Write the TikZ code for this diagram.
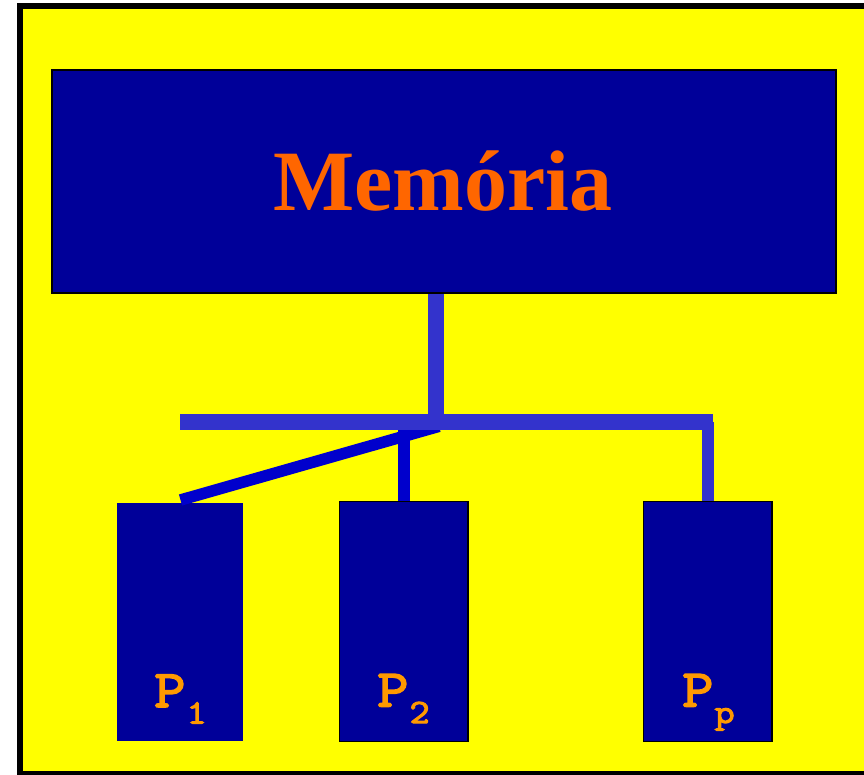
\documentclass[tikz,border=0pt]{standalone}
\usepackage{fontspec}
\usetikzlibrary{calc}
\newfontfamily\memfont{Liberation Serif}
% heavy typewriter face for the processor labels
\newfontfamily\cpufont{Latin Modern Mono}[FakeBold=3, FakeStretch=1.15]
\newcommand\plabel[1]{{\cpufont\fontsize{53}{53}\selectfont P\kern1pt\raisebox{-16.5pt}{\fontsize{34}{34}\selectfont #1}}}

\definecolor{bgyellow}{HTML}{FFFF00}
\definecolor{boxnavy}{HTML}{000099}
\definecolor{busblue}{HTML}{3333CC}
\definecolor{linkblue}{HTML}{0000CC}
\definecolor{memorange}{HTML}{FF6600}
\definecolor{cpuorange}{HTML}{FF9900}

\tikzset{
  membox/.style={rectangle, fill=boxnavy, draw=black, line width=2pt, inner sep=0pt},
  cpubox/.style={rectangle, fill=boxnavy, draw=black, line width=1.5pt, inner sep=0pt,
                 minimum width=128.2pt, minimum height=239.6pt},
  cpubare/.style={rectangle, fill=boxnavy, inner sep=0pt,
                 minimum width=126pt, minimum height=238pt},
  busline/.style={draw=busblue, line cap=butt},
  linkline/.style={draw=linkblue, line cap=butt},
  cpulabel/.style={anchor=base west, inner sep=0pt, text=cpuorange}
}

\begin{document}
\begin{tikzpicture}[x=1pt, y=-1pt]
  \useasboundingbox (0,0) rectangle (864,774);
  \clip (0,0) rectangle (864,774);

  % yellow panel with its black frame
  \draw[fill=bgyellow, line width=6pt] (19.7,6) rectangle (880,773.7);

  % shared memory
  \node[membox, minimum width=784.3pt, minimum height=223pt] (mem) at (443.85,181.5) {};
  \node[anchor=base, inner sep=0pt, text=memorange] (memtext) at (443,210)
    {\memfont\bfseries\fontsize{86}{86}\selectfont Memória};

  % processors
  \node[cpubare] (p1) at (179.7,621.7) {};
  \node[cpubox] (p2) at (403.7,621.5) {};
  \node[cpubox] (pp) at (707.8,621.5) {};

  \node[cpulabel] (l1) at (154,707) {\plabel{1}};
  \node[cpulabel] (l2) at (377,706.5) {\plabel{2}};
  \node[cpulabel] (lp) at (682,706.5) {\plabel{p}};

  % bus points
  \coordinate (tap) at (436.2,422);
  \coordinate (busL) at (180,422);
  \coordinate (busR) at (713.3,422);
  \coordinate (hub) at (439,426.3);

  % drops from the bus to the processors
  \draw[busline, line width=11.6pt] (pp.north) -- (pp.north |- tap);
  \draw[linkline, line width=12.3pt] (p2.north) -- (p2.north |- tap);
  \draw[linkline, line width=11.5pt] ($(p1.north)+(0.8,-2.5)$) -- (hub);

  % memory to bus
  \draw[busline, line width=15.7pt] (mem.south -| tap) -- (tap);
  \draw[busline, line width=16pt] (busL) -- (busR);
\end{tikzpicture}
\end{document}
